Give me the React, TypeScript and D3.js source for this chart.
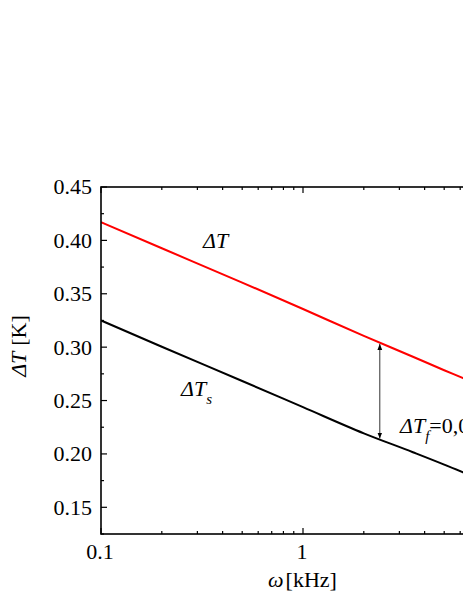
import React from "react";
import * as d3 from "d3";

// frequency samples (kHz)
const omega = [0.1, 0.2, 0.5, 1, 2, 3.5, 5, 6.2, 10];
// ΔT (red)
const deltaT = [0.417, 0.3926, 0.3605, 0.3357, 0.3106, 0.291, 0.2784, 0.271, 0.254];
// ΔT_s (black)
const deltaTs = [0.325, 0.3004, 0.2683, 0.2438, 0.2193, 0.2016, 0.19, 0.1827, 0.164];

const yTicks = [0.15, 0.2, 0.25, 0.3, 0.35, 0.4, 0.45];
const yMinor = [0.125, 0.175, 0.225, 0.275, 0.325, 0.375, 0.425];
const xTicks = [0.1, 1, 10];
const xTickLabels = ["0.1", "1", ""];
const xMinor = [0.2, 0.3, 0.4, 0.5, 0.6, 0.7, 0.8, 0.9, 2, 3, 4, 5, 6, 7, 8, 9];

const arrowOmega = 2.4;
const arrowTop = 0.304;
const arrowBottom = 0.2135;

const W = 463;
const H = 599;
const left = 101, right = 505, top = 187, bottom = 534;

export default function App() {
  const x = d3.scaleLog().domain([0.1, 10]).range([left, right]);
  const y = d3.scaleLinear().domain([0.125, 0.45]).range([bottom, top]);
  const line = (vals: number[]) =>
    d3.line<number>().x((_, i) => x(omega[i])).y((d) => y(d)).curve(d3.curveMonotoneX)(vals) || "";
  const font = "Liberation Serif, Times New Roman, serif";
  const ax = x(arrowOmega);
  const ay1 = y(arrowTop);
  const ay2 = y(arrowBottom);
  return (
    <svg width={W} height={H} style={{ position: "absolute", left: 0, top: 0, background: "#fff", fontFamily: font }}>
      <defs>
        <clipPath id="plot">
          <rect x={left} y={top} width={right - left} height={bottom - top} />
        </clipPath>
        <marker id="ah" viewBox="0 0 10 10" refX="10" refY="5" markerWidth="6" markerHeight="7" orient="auto-start-reverse" markerUnits="userSpaceOnUse">
          <path d="M0,1 L10,5 L0,9 Z" fill="#000" />
        </marker>
      </defs>
      {/* curves */}
      <g clipPath="url(#plot)">
        <path d={line(deltaT)} fill="none" stroke="#ff0000" strokeWidth={2} />
        <path d={line(deltaTs)} fill="none" stroke="#000" strokeWidth={2} />
      </g>
      {/* arrow */}
      <line x1={ax} x2={ax} y1={ay1 + 1} y2={ay2 - 1} stroke="#333" strokeWidth={1}
        markerStart="url(#ah)" markerEnd="url(#ah)" />
      {/* frame */}
      <rect x={left} y={top} width={right - left} height={bottom - top} fill="none" stroke="#000" strokeWidth={1.6} />
      {/* y ticks */}
      {yTicks.map((t) => (
        <g key={"yt" + t}>
          <line x1={left} x2={left + 6} y1={y(t)} y2={y(t)} stroke="#000" strokeWidth={1.2} />
          <text x={92} y={y(t)} dy="0.34em" textAnchor="end" fontSize={22} style={{ fontFamily: font }}>{t.toFixed(2)}</text>
        </g>
      ))}
      {yMinor.map((t) => (
        <line key={"ym" + t} x1={left} x2={left + 3} y1={y(t)} y2={y(t)} stroke="#000" strokeWidth={1.2} />
      ))}
      {/* x ticks */}
      {xTicks.map((t, i) => (
        <g key={"xt" + t}>
          <line x1={x(t)} x2={x(t)} y1={bottom} y2={bottom - 6} stroke="#000" strokeWidth={1.2} />
          <line x1={x(t)} x2={x(t)} y1={top} y2={top + 6} stroke="#000" strokeWidth={1.2} />
          {xTickLabels[i] && (
            <text x={x(t) - 1} y={559} textAnchor="middle" fontSize={22} style={{ fontFamily: font }}>{xTickLabels[i]}</text>
          )}
        </g>
      ))}
      {xMinor.map((t) => (
        <g key={"xm" + t}>
          <line x1={x(t)} x2={x(t)} y1={bottom} y2={bottom - 3} stroke="#000" strokeWidth={1.2} />
          <line x1={x(t)} x2={x(t)} y1={top} y2={top + 3} stroke="#000" strokeWidth={1.2} />
        </g>
      ))}
      {/* axis labels */}
      <text x={302.5} y={587} textAnchor="middle" fontSize={22} style={{ fontFamily: font }}>
        <tspan fontStyle="italic">ω</tspan>
        <tspan dx={2}>[kHz]</tspan>
      </text>
      <text transform="translate(26,346) rotate(-90)" textAnchor="middle" fontSize={22} style={{ fontFamily: font }}>
        <tspan fontStyle="italic">ΔT</tspan>
        <tspan dx={6}>[K]</tspan>
      </text>
      {/* curve labels */}
      <text x={203} y={248} fontSize={22} fontStyle="italic" style={{ fontFamily: font }}>ΔT</text>
      <text x={181} y={396} fontSize={22} fontStyle="italic" style={{ fontFamily: font }}>
        ΔT<tspan fontSize={15} dy={8}>s</tspan>
      </text>
      <text x={400} y={433} fontSize={22} style={{ fontFamily: font }}>
        <tspan fontStyle="italic">ΔT</tspan>
        <tspan fontStyle="italic" fontSize={15} dy={8}>f</tspan>
        <tspan dy={-8}>=0,09 K</tspan>
      </text>
    </svg>
  );
}
